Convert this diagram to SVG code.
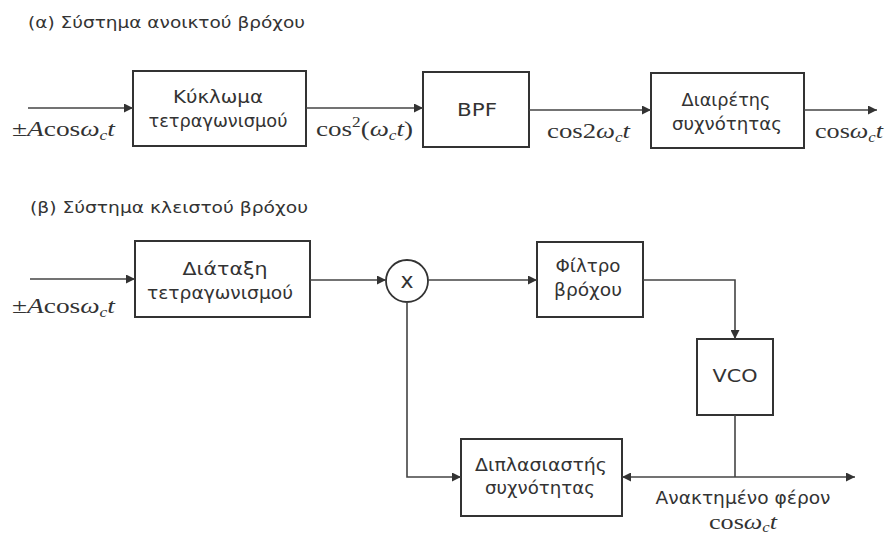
<svg xmlns="http://www.w3.org/2000/svg" width="885" height="536" viewBox="0 0 885 536">
  <defs>
    <marker id="arrow" viewBox="0 0 10 10" refX="10" refY="5" markerWidth="11" markerHeight="9" markerUnits="userSpaceOnUse" orient="auto">
      <path d="M0,0 L10,5 L0,10 z" fill="#333"/>
    </marker>
    <style>
      .box { fill: #fff; stroke: #333; stroke-width: 2; }
      .wire { fill: none; stroke: #444; stroke-width: 1.6; }
      .lbl { font-family: "DejaVu Sans", "Liberation Sans", sans-serif; font-size: 17px; fill: #333; text-anchor: middle; }
      .title { font-family: "DejaVu Sans", "Liberation Sans", sans-serif; font-size: 16px; fill: #333; }
      .math { font-family: "Liberation Serif", "Times New Roman", serif; font-size: 22px; fill: #333; }
      .it { font-style: italic; }
      .sub { font-size: 14px; font-style: italic; }
      .sup { font-size: 14px; }
    </style>
  </defs>
  <rect width="885" height="536" fill="#fff"/>

  <!-- (a) open-loop system -->
  <text class="title" x="28" y="28" textLength="277" lengthAdjust="spacingAndGlyphs">(α) Σύστημα ανοικτού βρόχου</text>

  <g id="squarer-a">
    <rect class="box" x="133" y="71" width="173" height="75"/>
    <text class="lbl" x="218" y="103" textLength="90" lengthAdjust="spacingAndGlyphs">Κύκλωμα</text>
    <text class="lbl" x="218" y="127" textLength="139" lengthAdjust="spacingAndGlyphs">τετραγωνισμού</text>
  </g>
  <g id="bpf">
    <rect class="box" x="423" y="72" width="106" height="75"/>
    <text class="lbl" x="477" y="116" textLength="40" lengthAdjust="spacingAndGlyphs">BPF</text>
  </g>
  <g id="divider">
    <rect class="box" x="651" y="73" width="153" height="75"/>
    <text class="lbl" x="726" y="106" textLength="89" lengthAdjust="spacingAndGlyphs">Διαιρέτης</text>
    <text class="lbl" x="727" y="130" textLength="110" lengthAdjust="spacingAndGlyphs">συχνότητας</text>
  </g>

  <!-- (b) closed-loop system -->
  <text class="title" x="30" y="213" textLength="278" lengthAdjust="spacingAndGlyphs">(β) Σύστημα κλειστού βρόχου</text>

  <g id="squarer-b">
    <rect class="box" x="135" y="241" width="175" height="76"/>
    <text class="lbl" x="225" y="275" textLength="85" lengthAdjust="spacingAndGlyphs">Διάταξη</text>
    <text class="lbl" x="220" y="299" textLength="146" lengthAdjust="spacingAndGlyphs">τετραγωνισμού</text>
  </g>
  <g id="mixer">
    <circle cx="407" cy="281" r="21" fill="#fff" stroke="#333" stroke-width="1.8"/>
    <text class="lbl" x="407" y="288" style="font-size:22px">x</text>
  </g>
  <g id="loop-filter">
    <rect class="box" x="537" y="242" width="106" height="75"/>
    <text class="lbl" x="588" y="272" textLength="65" lengthAdjust="spacingAndGlyphs">Φίλτρο</text>
    <text class="lbl" x="588" y="296" textLength="68" lengthAdjust="spacingAndGlyphs">βρόχου</text>
  </g>
  <g id="vco">
    <rect class="box" x="697" y="339" width="76" height="76"/>
    <text class="lbl" x="735" y="382" textLength="45" lengthAdjust="spacingAndGlyphs">VCO</text>
  </g>
  <g id="doubler">
    <rect class="box" x="461" y="439" width="161" height="77"/>
    <text class="lbl" x="541" y="471" textLength="132" lengthAdjust="spacingAndGlyphs">Διπλασιαστής</text>
    <text class="lbl" x="540" y="494" textLength="110" lengthAdjust="spacingAndGlyphs">συχνότητας</text>
  </g>

  <g id="connectors">
    <line class="wire" x1="28" y1="108" x2="133" y2="108" marker-end="url(#arrow)"/>
    <line class="wire" x1="306" y1="108" x2="423" y2="108" marker-end="url(#arrow)"/>
    <line class="wire" x1="529" y1="110" x2="651" y2="110" marker-end="url(#arrow)"/>
    <line class="wire" x1="804" y1="110" x2="877" y2="110" marker-end="url(#arrow)"/>

    <line class="wire" x1="30" y1="279" x2="135" y2="279" marker-end="url(#arrow)"/>
    <line class="wire" x1="310" y1="280" x2="386" y2="280" marker-end="url(#arrow)"/>
    <line class="wire" x1="428" y1="280" x2="537" y2="280" marker-end="url(#arrow)"/>
    <polyline class="wire" points="643,280 735,280 735,339" marker-end="url(#arrow)"/>
    <polyline class="wire" points="407,302 407,477 461,477" marker-end="url(#arrow)"/>
    <line class="wire" x1="735" y1="415" x2="735" y2="477"/>
    <line class="wire" x1="735" y1="477" x2="622" y2="477" marker-end="url(#arrow)"/>
    <line class="wire" x1="735" y1="477" x2="855" y2="477" marker-end="url(#arrow)"/>
  </g>

  <!-- signal labels -->
  <text class="math" x="12" y="136" textLength="103" lengthAdjust="spacingAndGlyphs">±<tspan class="it">A</tspan>cos<tspan class="it">ω</tspan><tspan class="sub" dy="4">c</tspan><tspan class="it" dy="-4">t</tspan></text>
  <text class="math" x="316" y="136" textLength="97" lengthAdjust="spacingAndGlyphs">cos<tspan class="sup" dy="-9">2</tspan><tspan dy="9">(</tspan><tspan class="it">ω</tspan><tspan class="sub" dy="4">c</tspan><tspan class="it" dy="-4">t</tspan>)</text>
  <text class="math" x="547" y="138" textLength="83" lengthAdjust="spacingAndGlyphs">cos2<tspan class="it">ω</tspan><tspan class="sub" dy="4">c</tspan><tspan class="it" dy="-4">t</tspan></text>
  <text class="math" x="815" y="138" textLength="68" lengthAdjust="spacingAndGlyphs">cos<tspan class="it">ω</tspan><tspan class="sub" dy="4">c</tspan><tspan class="it" dy="-4">t</tspan></text>
  <text class="math" x="12" y="313" textLength="103" lengthAdjust="spacingAndGlyphs">±<tspan class="it">A</tspan>cos<tspan class="it">ω</tspan><tspan class="sub" dy="4">c</tspan><tspan class="it" dy="-4">t</tspan></text>
  <text class="lbl" x="743" y="504" textLength="175" lengthAdjust="spacingAndGlyphs">Ανακτημένο φέρον</text>
  <text class="math" x="709" y="529" textLength="68" lengthAdjust="spacingAndGlyphs">cos<tspan class="it">ω</tspan><tspan class="sub" dy="3">c</tspan><tspan class="it" dy="-3">t</tspan></text>
</svg>
